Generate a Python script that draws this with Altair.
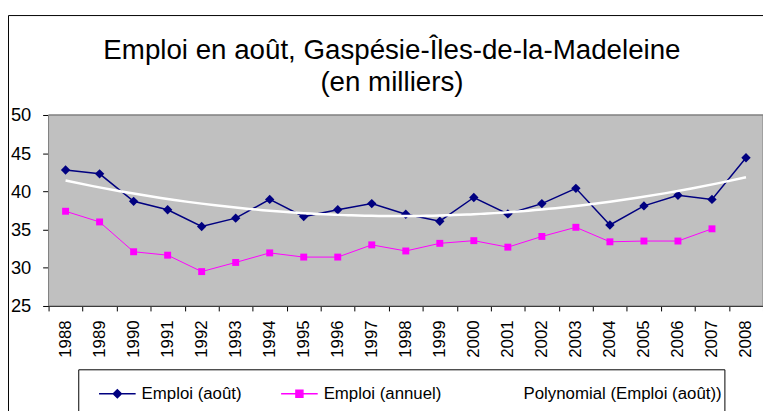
import altair as alt
import pandas as pd

# ---------------- data ----------------
years = list(range(1988, 2009))
emploi_aout = [42.8, 42.3, 38.7, 37.6, 35.4, 36.5, 38.95, 36.7, 37.6, 38.4, 37.0,
               36.1, 39.2, 37.05, 38.4, 40.4, 35.6, 38.1, 39.5, 38.95, 44.4]
emploi_annuel = [37.4, 36.0, 32.1, 31.65, 29.5, 30.7, 31.95, 31.4, 31.4, 33.0,
                 32.2, 33.2, 33.55, 32.7, 34.1, 35.3, 33.4, 33.5, 33.5, 35.1]  # 1988-2007
series_names = ["Emploi (août)", "Emploi (annuel)", "Polynomial (Emploi (août))"]
y_ticks = [25, 30, 35, 40, 45, 50]
title_lines = ["Emploi en août, Gaspésie-Îles-de-la-Madeleine", "(en milliers)"]

FONT = "Liberation Sans, Arial, Helvetica, sans-serif"
NAVY = "#000080"
MAGENTA = "#FF00FF"

aout_df = pd.DataFrame({"year": years, "value": emploi_aout, "series": series_names[0]})
annuel_df = pd.DataFrame({"year": years[:len(emploi_annuel)], "value": emploi_annuel,
                          "series": series_names[1]})

W, H = 722, 193

x_enc = alt.X(
    "year:O",
    scale=alt.Scale(domain=years, paddingInner=0, paddingOuter=0),
    axis=alt.Axis(title=None, labelAngle=270, tickBand="extent", tickSize=5,
                  labelPadding=9, grid=False, domainColor="black", tickColor="black",
                  labelFontSize=17),
)
y_scale = alt.Scale(domain=[25, 50], nice=False, zero=False)
y_enc = alt.Y(
    "value:Q",
    scale=y_scale,
    axis=alt.Axis(title=None, values=y_ticks, tickSize=6, labelPadding=12, grid=True,
                  gridColor="black", domainColor="black", tickColor="black",
                  labelFontSize=18.5),
)

# decorations: chart frame, plot background, plot top border, legend box
one = pd.DataFrame({"k": [0]})
frame = alt.Chart(one).mark_rect(fill="white", fillOpacity=0, stroke="black",
                                 strokeWidth=1).encode(
    x=alt.value(-40.5), x2=alt.value(760), y=alt.value(-100.5), y2=alt.value(330)
)
plot_bg = alt.Chart(one).mark_rect(fill="#C0C0C0", stroke="#808080", strokeWidth=1).encode(
    x=alt.value(0), x2=alt.value(W), y=alt.value(0), y2=alt.value(H)
)
top_border = alt.Chart(one).mark_rule(color="#808080", strokeWidth=1).encode(
    x=alt.value(0), x2=alt.value(W), y=alt.value(0)
)
legend_box = alt.Chart(one).mark_rect(fill="white", stroke="black", strokeWidth=1).encode(
    x=alt.value(30.5), x2=alt.value(683.5), y=alt.value(257.5), y2=alt.value(330)
)

line_aout = alt.Chart(aout_df).mark_line(color=NAVY, strokeWidth=1.5).encode(x=x_enc, y=y_enc)
pts_aout = alt.Chart(aout_df).mark_point(shape="diamond", filled=True, size=90, color=NAVY,
                                         opacity=1).encode(x=x_enc, y=y_enc)
line_ann = alt.Chart(annuel_df).mark_line(color=MAGENTA, strokeWidth=1).encode(x=x_enc, y=y_enc)
pts_ann = alt.Chart(annuel_df).mark_point(shape="square", filled=True, size=49, color=MAGENTA,
                                          opacity=1).encode(x=x_enc, y=y_enc)

trend = (
    alt.Chart(aout_df)
    .transform_regression("year", "value", method="poly", order=2)
    .mark_line(color="white", strokeWidth=2.5)
    .encode(
        x=alt.X("year:Q", scale=alt.Scale(domain=[1987.5, 2008.5], nice=False, zero=False),
                axis=None),
        y=y_enc,
    )
)

# legend (symbols: line + marker)
sym_diamond = "M-1,0L1,0M0,-0.22L0.22,0L0,0.22L-0.22,0Z"
sym_square = "M-1,0L1,0M-0.19,-0.19L0.19,-0.19L0.19,0.19L-0.19,0.19Z"
sym_line = "M-1,0L1,0"
leg = alt.Legend(title=None, orient="none", legendX=50, legendY=262, direction="horizontal",
                 symbolSize=1369, symbolStrokeWidth=1.5, labelFont=FONT, labelFontSize=17,
                 labelColor="black", labelOffset=5, columnPadding=36, padding=0,
                 labelLimit=400)
legend_df = pd.DataFrame({"series": series_names})
legend_layer = (
    alt.Chart(legend_df)
    .transform_filter("false")
    .mark_point(filled=True, opacity=1)
    .encode(
        shape=alt.Shape("series:N", scale=alt.Scale(domain=series_names,
                        range=[sym_diamond, sym_square, sym_line]), legend=leg),
        fill=alt.Fill("series:N", scale=alt.Scale(domain=series_names,
                      range=[NAVY, MAGENTA, "white"]), legend=leg),
        stroke=alt.Stroke("series:N", scale=alt.Scale(domain=series_names,
                          range=[NAVY, MAGENTA, "white"]), legend=leg),
    )
)

main = alt.layer(frame, plot_bg, legend_box, line_aout, line_ann, top_border, pts_aout,
                 pts_ann, legend_layer)

chart = (
    alt.layer(main, trend)
    .resolve_scale(x="independent")
    .properties(
        width=W,
        height=H,
        autosize=alt.AutoSizeParams(type="none"),
        padding={"left": 41, "top": 106, "right": 0, "bottom": 104},
        title=alt.TitleParams(text=title_lines, font=FONT, fontSize=28, fontWeight="normal",
                              color="black", lineHeight=33, anchor="middle", dx=-14,
                              offset=10, dy=93),
    )
    .configure(background="white")
    .configure_view(strokeWidth=0)
    .configure_axis(labelFont=FONT, labelColor="black")
)

chart.save("out.html", embed_options={"renderer": "svg", "actions": False})
